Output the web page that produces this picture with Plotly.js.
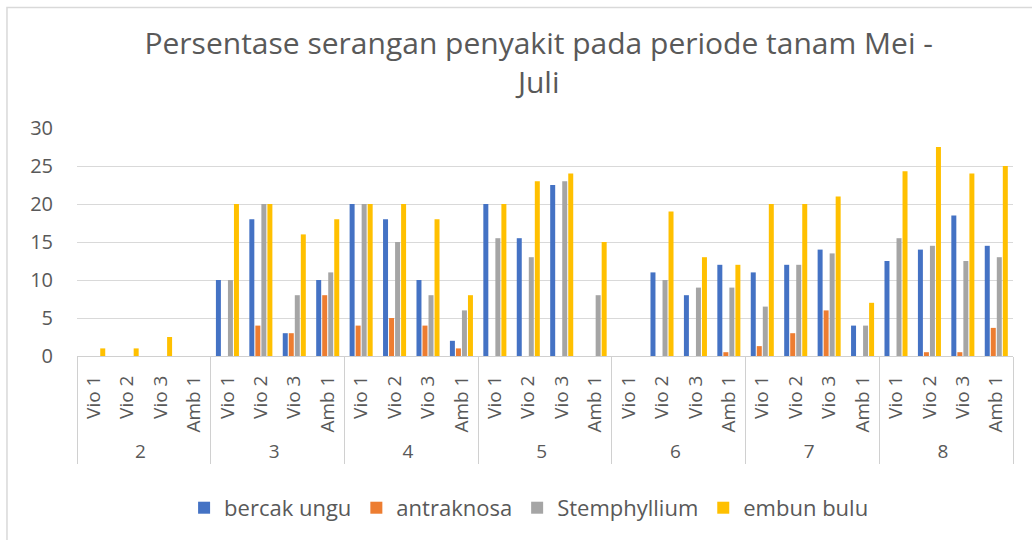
<!DOCTYPE html>
<html>
<head>
<meta charset="utf-8">
<script src="https://cdn.plot.ly/plotly-3.0.1.min.js"></script>
<style>html,body{margin:0;padding:0;background:#fff;}#chart{width:1032px;height:540px;}</style>
</head>
<body>
<div id="chart"></div>
<script>
const groups = ["2","3","4","5","6","7","8"];
const subs = ["Vio 1","Vio 2","Vio 3","Amb 1"];
const bercakUngu = [0,0,0,0, 10,18,3,10, 20,18,10,2, 20,15.5,22.5,0, 0,11,8,12, 11,12,14,4, 12.5,14,18.5,14.5];
const antraknosa = [0,0,0,0, 0,4,3,8, 4,5,4,1, 0,0,0,0, 0,0,0,0.5, 1.3,3,6,0, 0,0.5,0.5,3.7];
const stemphyllium = [0,0,0,0, 10,20,8,11, 20,15,8,6, 15.5,13,23,8, 0,10,9,9, 6.5,12,13.5,4, 15.5,14.5,12.5,13];
const embunBulu = [1,1,2.5,0, 20,20,16,18, 20,20,18,8, 20,23,24,15, 0,19,13,12, 20,20,21,7, 24.3,27.5,24,25];
const seriesNames = ["bercak ungu","antraknosa","Stemphyllium","embun bulu"];
const seriesColors = ["#4472C4","#ED7D31","#A5A5A5","#FFC000"];
const seriesData = [bercakUngu, antraknosa, stemphyllium, embunBulu];

const xOuter = [], xInner = [];
groups.forEach(g => subs.forEach(s => { xOuter.push(g); xInner.push(s); }));

const traces = seriesData.map((vals, i) => ({
  type: "bar",
  name: seriesNames[i],
  x: [xOuter, xInner],
  y: vals,
  marker: {color: seriesColors[i]},
  hoverinfo: "y"
}));

const F = "Open Sans, Liberation Sans, Arial, sans-serif";
const layout = {
  width: 1032, height: 540,
  margin: {l: 77, r: 19, t: 128, b: 183},
  paper_bgcolor: "#fff", plot_bgcolor: "#fff",
  font: {family: F, color: "#595959"},
  title: {
    text: "Persentase serangan penyakit pada periode tanam Mei -<br>Juli",
    font: {size: 30, color: "#595959", family: F},
    xref: "container", x: 0.522, xanchor: "center", y: 0.9, yanchor: "top"
  },
  barmode: "group",
  bargap: 0.28,
  bargroupgap: 0.17,
  xaxis: {
    type: "multicategory",
    tickangle: -90,
    tickfont: {size: 19, color: "#595959"},
    showline: true, linecolor: "#d0d0d0", linewidth: 1,
    showdividers: true, dividercolor: "#d0d0d0", dividerwidth: 1,
    ticks: "", showgrid: false,
    ticklabelstandoff: 11
  },
  yaxis: {
    range: [0, 30], dtick: 5,
    showgrid: true, gridcolor: "#d9d9d9", gridwidth: 1,
    zeroline: false, showline: false,
    tickfont: {size: 20, color: "#595959"},
    ticks: "", ticklen: 0,
    ticklabelstandoff: 23
  },
  legend: {
    orientation: "h", x: 0.483, xanchor: "center", y: -0.659, yanchor: "middle",
    font: {size: 22, color: "#595959"},
    traceorder: "normal"
  },
  showlegend: true,
  shapes: [{type: "rect", xref: "paper", yref: "paper", x0: -0.0748, x1: 1.2, y0: -1.5, y1: 1.528, line: {color: "#d9d9d9", width: 1.5}, fillcolor: "rgba(0,0,0,0)", layer: "below"}]
};

Plotly.newPlot("chart", traces, layout, {displayModeBar: false, staticPlot: true});
</script>
</body>
</html>
